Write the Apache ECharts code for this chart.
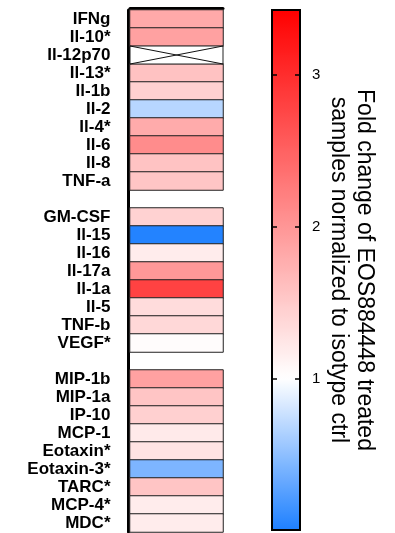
<!DOCTYPE html>
<html><head><meta charset="utf-8">
<script src="https://cdn.jsdelivr.net/npm/echarts@6/dist/echarts.min.js"></script>
<style>html,body{margin:0;padding:0;background:#fff}#c{width:395px;height:533px}</style>
</head><body><div id="c"></div>
<script>
// Row labels (top to bottom); gap rows are blank strings
const labels = ['IFNg','Il-10*','Il-12p70','Il-13*','Il-1b','Il-2','Il-4*','Il-6','Il-8','TNF-a',
  ' ',
  'GM-CSF','Il-15','Il-16','Il-17a','Il-1a','Il-5','TNF-b','VEGF*',
  '  ',
  'MIP-1b','MIP-1a','IP-10','MCP-1','Eotaxin*','Eotaxin-3*','TARC*','MCP-4*','MDC*'];
// Fold change values (null = gap row, 'NA' = missing measurement)
const values = [1.82,1.9,'NA',1.58,1.45,0.68,1.8,2.1,1.57,1.55,
  null,
  1.43,0.02,1.18,1.98,2.8,1.33,1.37,1.03,
  null,
  1.9,1.55,1.45,1.2,1.27,0.42,1.55,1.18,1.18];
const scaleMin = 0, scaleMax = 3.43;
const scaleTicks = [1,2,3];
const barTitle = 'Fold change of EOS884448 treated\nsamples normalized to isotype ctrl';

const heatData = [], missingData = [];
values.forEach((v,i)=>{
  if (v === 'NA') missingData.push([0,i]);
  else if (v !== null) heatData.push([0,i,v]);
});

// colour map: blue -> white at 1 -> red at max
const blue=[30,128,255], white=[255,255,255], red=[255,0,0];
const N=343, cols=[];
function mix(a,b,t){return 'rgb('+a.map((x,j)=>Math.round(x+(b[j]-x)*t)).join(',')+')';}
for(let k=0;k<=N;k++){const v=k*scaleMax/N; cols.push(v<=1?mix(blue,white,v):mix(white,red,(v-1)/(scaleMax-1)));}

const font='"Liberation Sans", Arial, Helvetica, sans-serif';
const tickStyle={show:true, length:5, customValues:scaleTicks, lineStyle:{color:'#000', width:1.5}};
const chart = echarts.init(document.getElementById('c'));
chart.setOption({
  animation:false,
  grid:[
    {left:130, top:10, width:93, height:522},
    {left:272, top:10, width:28, height:520, show:true, borderColor:'#000', borderWidth:2, backgroundColor:'transparent', z:10}
  ],
  xAxis:[
    {gridIndex:0, type:'category', data:['v'], position:'top', offset:1.5,
     axisLine:{lineStyle:{color:'#000', width:3}}, axisTick:{show:false}, axisLabel:{show:false}, splitLine:{show:false}},
    {gridIndex:1, type:'value', show:false}
  ],
  yAxis:[
    {gridIndex:0, type:'category', data:labels, inverse:true, offset:1.5,
     axisLine:{lineStyle:{color:'#000', width:3}}, axisTick:{show:false},
     axisLabel:{interval:0, color:'#000', fontFamily:font, fontWeight:'bold', fontSize:17, margin:18}, splitLine:{show:false}},
    {gridIndex:1, type:'value', min:scaleMin, max:scaleMax, interval:1, position:'right', z:10,
     axisLine:{show:false}, axisTick:{show:false},
     axisLabel:{color:'#000', fontFamily:font, fontSize:15, margin:12, customValues:scaleTicks},
     splitLine:{show:false},
     name:barTitle, nameLocation:'middle', nameRotate:-90, nameGap:25,
     nameTextStyle:{color:'#000', fontFamily:font, fontSize:23, lineHeight:26}},
    {gridIndex:1, type:'value', min:scaleMin, max:scaleMax, interval:1, position:'left', z:10,
     axisLine:{show:false}, axisTick:Object.assign({inside:true}, tickStyle),
     axisLabel:{show:false}, splitLine:{show:false}},
    {gridIndex:1, type:'value', min:scaleMin, max:scaleMax, interval:1, position:'left', offset:-28, z:10,
     axisLine:{show:false}, axisTick:Object.assign({inside:false}, tickStyle),
     axisLabel:{show:false}, splitLine:{show:false}}
  ],
  visualMap:{type:'continuous', min:scaleMin, max:scaleMax, seriesIndex:0, orient:'vertical',
    left:272, top:10, itemWidth:28, itemHeight:520, padding:0, calculable:false, text:null,
    showLabel:false, hoverLink:false, inRange:{color:cols}},
  series:[
    {type:'heatmap', xAxisIndex:0, yAxisIndex:0, data:heatData,
     itemStyle:{borderColor:'#222', borderWidth:1}},
    {type:'custom', xAxisIndex:0, yAxisIndex:0, data:missingData,
     renderItem:function(params, api){
       const c=api.coord([api.value(0), api.value(1)]);
       const s=api.size([1,1]);
       const x0=c[0]-s[0]/2, y0=c[1]-s[1]/2, x1=c[0]+s[0]/2, y1=c[1]+s[1]/2;
       return {type:'group', children:[
         {type:'rect', shape:{x:x0,y:y0,width:s[0],height:s[1]}, style:{fill:'#fff', stroke:'#222', lineWidth:1}},
         {type:'line', shape:{x1:x0,y1:y0,x2:x1,y2:y1}, style:{stroke:'#111', lineWidth:1}},
         {type:'line', shape:{x1:x0,y1:y1,x2:x1,y2:y0}, style:{stroke:'#111', lineWidth:1}}
       ]};
     }}
  ]
});
</script></body></html>
